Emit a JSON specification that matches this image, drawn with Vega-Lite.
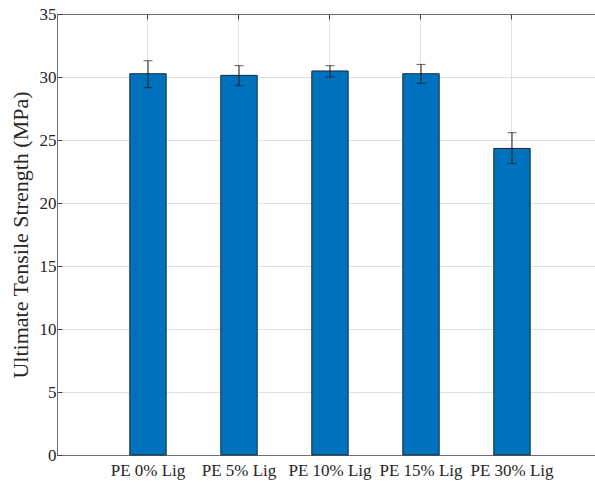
{
  "$schema": "https://vega.github.io/schema/vega-lite/v6.json",
  "width": 538,
  "height": 441,
  "autosize": {"type": "none"},
  "padding": {"left": 57, "top": 14, "right": 0, "bottom": 36},
  "background": "white",
  "config": {
    "view": {"stroke": null},
    "font": "Liberation Serif",
    "axis": {
      "labelFont": "Liberation Serif",
      "titleFont": "Liberation Serif",
      "labelFontSize": 17,
      "labelColor": "#262626",
      "titleColor": "#262626",
      "titleFontWeight": "normal",
      "gridColor": "#e0e0e0",
      "gridWidth": 1,
      "domainColor": "#707070",
      "domainWidth": 1,
      "tickColor": "#404040",
      "tickSize": -5
    }
  },
  "data": {
    "values": [
      {"Sample": "PE 0% Lig", "Mean": 30.26, "Low": 29.15, "High": 31.29},
      {"Sample": "PE 5% Lig", "Mean": 30.13, "Low": 29.31, "High": 30.9},
      {"Sample": "PE 10% Lig", "Mean": 30.48, "Low": 30.0, "High": 30.9},
      {"Sample": "PE 15% Lig", "Mean": 30.26, "Low": 29.5, "High": 31.0},
      {"Sample": "PE 30% Lig", "Mean": 24.33, "Low": 23.13, "High": 25.58}
    ]
  },
  "resolve": {"axis": {"x": "independent"}},
  "layer": [
    {
      "mark": {"type": "bar", "color": "#0072BD", "stroke": "#1b2a38", "strokeWidth": 1},
      "encoding": {
        "x": {
          "field": "Sample", "type": "nominal", "sort": null,
          "scale": {"paddingInner": 0.6, "paddingOuter": 0.756, "align": 0.529},
          "axis": {"orient": "bottom", "title": null, "labelAngle": 0, "grid": true, "labelPadding": 12, "domain": true, "ticks": true}
        },
        "y": {
          "field": "Mean", "type": "quantitative",
          "scale": {"domain": [0, 35], "nice": false},
          "axis": {"values": [0, 5, 10, 15, 20, 25, 30, 35], "title": "Ultimate Tensile Strength (MPa)", "titleFontSize": 22, "titlePadding": 7, "labelPadding": 6, "grid": true}
        }
      }
    },
    {
      "mark": {"type": "errorbar", "ticks": {"size": 9, "color": "#1a1a1a"}, "rule": {"color": "#1a1a1a", "strokeWidth": 1}},
      "encoding": {
        "x": {
          "field": "Sample", "type": "nominal", "sort": null,
          "axis": {"orient": "top", "title": null, "labels": false, "grid": false, "domain": true, "ticks": true}
        },
        "y": {"field": "Low", "type": "quantitative", "axis": {"title": "Ultimate Tensile Strength (MPa)"}},
        "y2": {"field": "High"}
      }
    }
  ]
}
